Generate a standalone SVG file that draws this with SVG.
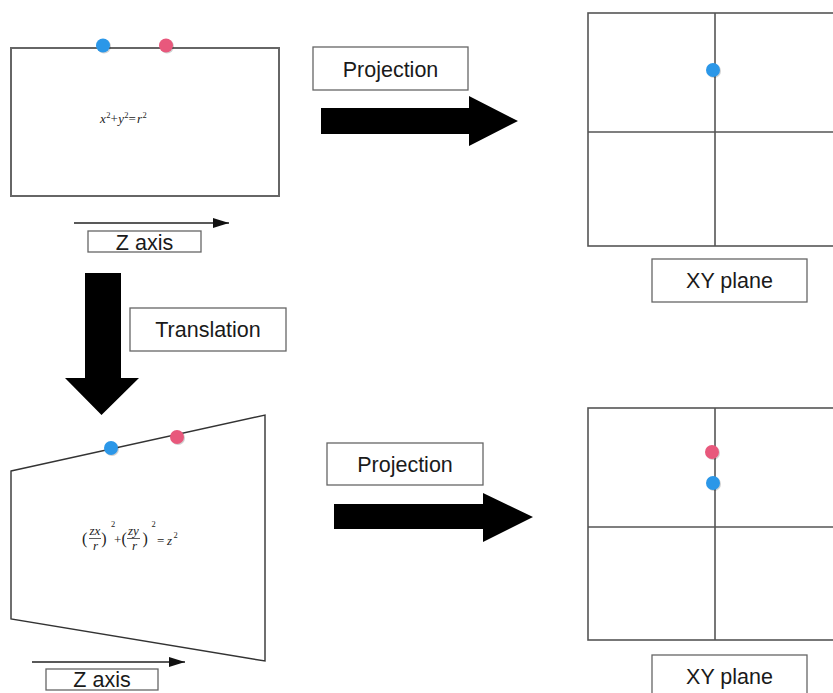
<svg xmlns="http://www.w3.org/2000/svg" width="833" height="693" viewBox="0 0 833 693">
<style>
.frame{fill:#fff;stroke:#666;stroke-width:2}
.trap{fill:#fff;stroke:#333;stroke-width:1.4}
.box{fill:#fff;stroke:#666;stroke-width:1.3}
.grid{fill:#fff;stroke:#555;stroke-width:1.6}
.gl{stroke:#555;stroke-width:1.6}
.lbl{font-family:"Liberation Sans",Arial,sans-serif;font-size:21.5px;fill:#1a1a1a;text-anchor:middle}
.eq{font-family:"Liberation Serif","Times New Roman",serif;font-size:13px;font-style:italic;fill:#222}
.eqn{font-family:"Liberation Serif","Times New Roman",serif;font-size:13px;fill:#222}
.sup{font-family:"Liberation Serif","Times New Roman",serif;font-size:8.5px;fill:#222}
.par{font-family:"Liberation Serif","Times New Roman",serif;font-size:16px;fill:#222}
.blue{fill:#2b97e8}
.pink{fill:#e8587c}
.shadow{fill:#000;opacity:0.18}
.big{fill:#000}
.axis{stroke:#222;stroke-width:1.5}
</style>
<defs>
<marker id="ah" viewBox="0 0 16 10" refX="16" refY="5" markerWidth="16" markerHeight="10" markerUnits="userSpaceOnUse" orient="auto">
<path d="M0,0 L16,5 L0,10 Z" fill="#111"/>
</marker>
</defs>
<rect width="833" height="693" fill="#fff"/>

<g id="circle-view">
<rect class="frame" x="11" y="48" width="268" height="148"/>
<circle class="shadow" cx="104" cy="46.5" r="7"/>
<circle class="blue" cx="103" cy="45.5" r="7"/>
<circle class="shadow" cx="167" cy="46.5" r="7"/>
<circle class="pink" cx="166" cy="45.5" r="7"/>
<text class="eq" x="100" y="123">x</text>
<text class="sup" x="106.3" y="117.5">2</text>
<text class="eqn" x="110.5" y="123">+</text>
<text class="eq" x="118.2" y="123">y</text>
<text class="sup" x="124.3" y="117.5">2</text>
<text class="eqn" x="128.5" y="123">=</text>
<text class="eq" x="137" y="123">r</text>
<text class="sup" x="142.5" y="117.5">2</text>
</g>

<g id="z-axis-top">
<line class="axis" x1="74" y1="223" x2="229" y2="223" marker-end="url(#ah)"/>
<rect class="box" x="88" y="231" width="113" height="21"/>
<text class="lbl" x="144.5" y="249.5">Z axis</text>
</g>

<g id="projection-top">
<rect class="box" x="313" y="47" width="155" height="43"/>
<text class="lbl" x="390.5" y="77">Projection</text>
</g>

<g id="xy-plane-top">
<rect class="grid" x="588" y="13" width="262" height="233"/>
<line class="gl" x1="715" y1="13" x2="715" y2="246"/>
<line class="gl" x1="588" y1="132" x2="833" y2="132"/>
<circle class="shadow" cx="714" cy="71" r="7"/>
<circle class="blue" cx="713" cy="70" r="7"/>
<rect class="box" x="652" y="259" width="155" height="43"/>
<text class="lbl" x="729.5" y="288">XY plane</text>
</g>

<g id="translation-label">
<rect class="box" x="130" y="308" width="156" height="43"/>
<text class="lbl" x="208" y="337">Translation</text>
</g>

<g id="cone-view">
<polygon class="trap" points="11,471 265,415 265,661 11,619"/>
<circle class="shadow" cx="112" cy="449" r="7"/>
<circle class="blue" cx="111" cy="448" r="7"/>
<circle class="shadow" cx="178" cy="438" r="7"/>
<circle class="pink" cx="177" cy="437" r="7"/>
<text class="par" x="82" y="544">(</text>
<text class="eq" x="89.5" y="535">zx</text>
<line x1="89" y1="538.5" x2="101" y2="538.5" stroke="#333" stroke-width="0.8"/>
<text class="eq" x="93" y="550">r</text>
<text class="par" x="101.2" y="544">)</text>
<text class="sup" x="111" y="527">2</text>
<text class="eqn" x="114" y="544">+</text>
<text class="par" x="121.6" y="544">(</text>
<text class="eq" x="128" y="535">zy</text>
<line x1="127" y1="538.5" x2="140" y2="538.5" stroke="#333" stroke-width="0.8"/>
<text class="eq" x="132" y="550">r</text>
<text class="par" x="142.5" y="544">)</text>
<text class="sup" x="151.5" y="527">2</text>
<text class="eqn" x="157" y="545">=</text>
<text class="eq" x="167" y="545">z</text>
<text class="sup" x="173.5" y="538">2</text>
</g>

<g id="z-axis-bottom">
<line class="axis" x1="32" y1="662" x2="185" y2="662" marker-end="url(#ah)"/>
<rect class="box" x="46" y="669" width="112" height="21"/>
<text class="lbl" x="102" y="687">Z axis</text>
</g>

<g id="projection-bottom">
<rect class="box" x="327" y="443" width="156" height="42"/>
<text class="lbl" x="405" y="472">Projection</text>
</g>

<g id="xy-plane-bottom">
<rect class="grid" x="588" y="408" width="262" height="232"/>
<line class="gl" x1="715" y1="408" x2="715" y2="640"/>
<line class="gl" x1="588" y1="527" x2="833" y2="527"/>
<circle class="shadow" cx="713" cy="453" r="7"/>
<circle class="pink" cx="712" cy="452" r="7"/>
<circle class="shadow" cx="714" cy="484" r="7"/>
<circle class="blue" cx="713" cy="483" r="7"/>
<rect class="box" x="652" y="655" width="155" height="50"/>
<text class="lbl" x="729.5" y="684">XY plane</text>
</g>

<g id="connectors">
<polygon class="big" points="321,108 469,108 469,96 518,121 469,146 469,134 321,134"/>
<polygon class="big" points="85,273 121,273 121,378 139,378 101.5,415 65,378 85,378"/>
<polygon class="big" points="334,504 483,504 483,493 533,517 483,542 483,529 334,529"/>
</g>
</svg>
